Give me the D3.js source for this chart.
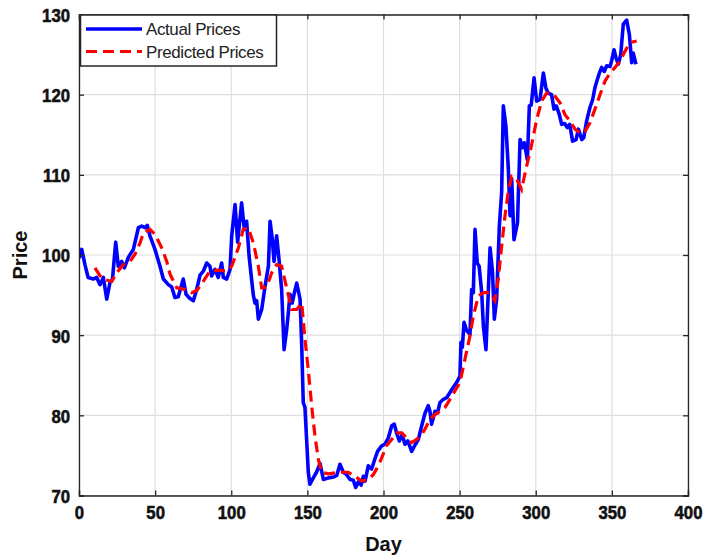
<!DOCTYPE html>
<html><head><meta charset="utf-8">
<script src="https://cdn.jsdelivr.net/npm/d3@7"></script>
<style>
html,body{margin:0;padding:0;background:#fff;}
svg{display:block;}
</style></head>
<body>
<svg id="chart" width="704" height="555"></svg>
<script>
const actualDays = [0,1.8,3.9,6,9.4,11.6,13.8,16,18.2,20.4,22,24.1,25.8,28,29.8,32.4,35.7,39,41.2,43.4,44.9,46.6,49.9,53.2,55.4,58.7,60.9,63,65.2,68.5,70.3,72.7,75.1,77.3,79.5,81.7,83.9,86,87.1,89.3,91.5,93.7,94.8,97,99.2,100.3,102.5,104.2,106.8,108.6,110.1,111.7,113,114.5,115.6,116.7,117.8,120,122.2,124.4,125.5,127,128.1,129.8,131.4,133.1,134.7,136.4,137.5,138.6,140,141.5,143,145.2,146.3,147.3,148.4,149.5,150.6,151.7,153.9,156,158.3,160.5,163.8,167.1,169.3,171.4,173.6,175.8,178,180.2,181.7,183.5,185.3,186.8,187.9,190,192.2,193.9,196.1,198.8,201,203.2,205.4,207.1,208.6,210.4,212.3,214.1,216,218.5,220.7,222.9,225.1,227.3,229.4,230.5,231.6,233.8,235.5,237.1,239.3,241.5,244.8,248,250.2,250.9,251.8,252.9,254.5,256.8,257.9,259,260.1,261.6,262.8,264.5,265.6,267.3,268.8,270,271.6,272.8,274.3,276.1,277.6,278.7,280.4,282,283.1,284.2,285.7,288,289.7,291.4,292.5,294.5,295.8,297,298.9,300.6,302.8,305,306.7,308.2,310.4,312,313.5,315.5,317,319,320.7,322.3,324.2,326.5,328,330.2,331.5,333.4,335.6,337.4,338.9,340,341.8,343.3,345,346.6,348.8,349.8,351.4,352.7,354.2,355.8,357.5,359.7,361.5,363,364,365.8];
const actualPrices = [99.6,100.7,98.8,97.2,97.0,97.2,96.3,97.2,94.5,96.6,97.0,101.6,98.6,99.2,98.4,99.7,100.7,103.4,103.6,103.4,103.7,102.4,100.7,98.6,97.0,96.3,96.0,94.7,94.8,97.0,95.1,94.6,94.3,95.7,97.5,98.0,99.0,98.6,97.4,98.2,97.2,99.0,97.2,97.0,98.2,102.4,106.3,101.6,106.5,103.2,104.2,99.9,97.6,95.0,94.0,94.3,92.0,93.2,96.1,98.6,104.2,101.9,99.2,102.4,99.4,95.7,88.2,90.7,92.8,95.1,94.0,95.3,96.5,94.5,88.6,81.6,81.0,77.0,72.9,71.4,72.2,72.9,74.0,72.0,72.2,72.3,72.5,73.9,72.9,72.6,72.0,71.9,71.0,71.7,71.3,72.4,71.8,73.7,73.3,74.3,75.5,76.2,76.4,77.2,78.7,78.9,77.8,76.8,77.6,76.4,76.8,75.5,76.3,77.0,78.7,80.3,81.2,80.5,78.9,80.5,80.3,81.6,82.0,82.2,83.2,84.1,84.9,89.1,88.5,91.6,90.6,90.1,95.7,95.3,103.2,99.0,98.6,95.3,91.1,88.2,95.3,100.9,97.9,92.0,94.5,103.6,107.8,118.6,116.1,110.7,104.9,109.5,101.9,104.0,114.4,113.4,114.0,111.9,118.6,118.7,122.1,119.2,119.4,122.7,120.8,120.2,120.0,118.2,118.6,117.5,116.3,116.4,115.9,116.3,114.2,114.4,115.7,114.4,114.6,116.7,118.4,119.4,120.9,121.6,122.7,123.4,122.9,123.6,123.5,124.2,125.6,124.6,123.8,125.0,128.8,129.3,127.5,124.0,125.2,123.8];

const predDays = [10.5,13.8,17.5,21.5,24.8,29.1,33.5,36.8,40.1,42.3,46.6,49.9,54.3,57.6,59.8,64.2,69.6,74,77.5,81.6,86,91.5,97,100.3,104.7,107.9,111.2,114.5,117.8,120,123.3,126.6,129.8,133.1,136.4,139.7,143,146.3,148.4,150.6,152.8,155,157.2,159.4,163.8,171.4,176.9,181.2,185.7,190,193.3,196.6,198.8,202,205.4,208.7,212,215.2,218.5,221.8,225.1,227.3,230.5,233.8,237.1,240.4,243.7,250.2,253.5,256.8,259,262.3,265.6,270,273.2,275.4,277.6,279.8,282,284.2,287.4,290.7,294,296.2,298.4,300.6,303.9,307.1,309.4,312.6,315.9,319.2,322.5,325.8,329,332.3,335.6,338.9,342.2,345.5,348.8,352.1,355.3,358.6,361.9,366.3];
const predPrices = [98.4,97.4,96.9,96.7,97.8,98.8,99.2,100.1,101.5,102.8,103.2,102.6,100.9,99.2,97.6,95.9,95.7,95.3,95.6,96.7,98.0,98.1,98.0,98.6,100.9,103.2,103.4,101.5,98.6,95.9,96.0,97.8,98.8,98.6,95.9,93.2,93.2,94.0,89.5,85.7,81.2,77.4,74.5,72.9,72.7,72.9,72.9,72.4,71.8,72.0,72.6,73.7,74.7,76.2,77.0,77.8,77.8,77.2,76.6,77.0,77.6,78.3,79.5,80.1,80.5,81.0,82.0,84.1,87.0,89.9,92.4,94.9,95.3,95.3,94.3,97.0,101.1,104.9,108.0,109.8,109.5,108.2,111.1,112.8,114.8,116.9,119.2,120.2,120.2,119.8,119.0,117.5,116.7,115.7,115.2,115.4,116.5,118.2,120.0,121.7,122.7,123.4,124.2,125.4,126.5,126.7];

const xTicks = [0,50,100,150,200,250,300,350,400];
const yTicks = [70,80,90,100,110,120,130];
const seriesNames = ["Actual Prices","Predicted Prices"];
const xLabel = "Day", yLabel = "Price";

const svg = d3.select("#chart");
const L = 79, R = 688, T = 14.5, B = 495.5;
const x = d3.scaleLinear().domain([0,400]).range([L,R]);
const y = d3.scaleLinear().domain([70,130]).range([B,T]);
const axisCol = "#262626";
const tickFont = "'Liberation Sans',Arial,sans-serif";

// grid
const g = svg.append("g");
g.selectAll("line.vx").data(xTicks).join("line")
  .attr("x1",d=>x(d)).attr("x2",d=>x(d)).attr("y1",T).attr("y2",B)
  .attr("stroke","#dedede").attr("stroke-width",1.2);
g.selectAll("line.hy").data(yTicks).join("line")
  .attr("x1",L).attr("x2",R).attr("y1",d=>y(d)).attr("y2",d=>y(d))
  .attr("stroke","#dedede").attr("stroke-width",1.2);

// clip
svg.append("clipPath").attr("id","clip").append("rect")
  .attr("x",L).attr("y",T).attr("width",R-L).attr("height",B-T);

const line = d3.line().x(d=>x(d[0])).y(d=>y(d[1]));
const actual = actualDays.map((d,i)=>[d,actualPrices[i]]);
const pred = predDays.map((d,i)=>[d,predPrices[i]]);

svg.append("path").datum(actual).attr("d",line)
  .attr("fill","none").attr("stroke","#0000ff").attr("stroke-width",3.6)
  .attr("stroke-linejoin","round").attr("clip-path","url(#clip)");
svg.append("path").datum(pred).attr("d",line)
  .attr("fill","none").attr("stroke","#ff0000").attr("stroke-width",3.2)
  .attr("stroke-dasharray","11,6").attr("clip-path","url(#clip)");

// axes (ticks inside)
const tickLen = 5;
const axB = svg.append("g").attr("transform",`translate(0,${B})`)
  .call(d3.axisBottom(x).tickValues(xTicks).tickSize(-tickLen).tickPadding(10).tickFormat(d3.format("d")));
const axT = svg.append("g").attr("transform",`translate(0,${T})`)
  .call(d3.axisTop(x).tickValues(xTicks).tickSize(-tickLen).tickFormat(""));
const axL = svg.append("g").attr("transform",`translate(${L},0)`)
  .call(d3.axisLeft(y).tickValues(yTicks).tickSize(-tickLen).tickPadding(9).tickFormat(d3.format("d")));
const axR = svg.append("g").attr("transform",`translate(${R},0)`)
  .call(d3.axisRight(y).tickValues(yTicks).tickSize(-tickLen).tickFormat(""));
[axB,axT,axL,axR].forEach(a=>{
  a.select(".domain").attr("stroke",axisCol).attr("stroke-width",1.3);
  a.selectAll(".tick line").attr("stroke",axisCol).attr("stroke-width",1.3);
  a.selectAll(".tick text").attr("fill","#111").attr("font-family",tickFont)
    .attr("font-weight","bold").attr("font-size",19)
    .attr("stroke","#111").attr("stroke-width",0.6);
});
axB.selectAll(".tick text").attr("dy","0.71em");
axL.selectAll(".tick text").attr("dy","0.36em");
// condense tick labels like the reference
[axB,axL].forEach(a=>a.selectAll(".tick text").each(function(){
  const w = this.getComputedTextLength();
  d3.select(this).attr("textLength",w*0.88).attr("lengthAdjust","spacingAndGlyphs");
}));

// axis labels
svg.append("text").attr("x",(L+R)/2).attr("y",551).attr("text-anchor","middle")
  .attr("font-family","'Liberation Sans',Arial,sans-serif").attr("font-weight","bold")
  .attr("font-size",20).attr("fill","#111").text(xLabel);
svg.append("text").attr("transform",`translate(27,${(T+B)/2}) rotate(-90)`)
  .attr("text-anchor","middle")
  .attr("font-family","'Liberation Sans',Arial,sans-serif").attr("font-weight","bold")
  .attr("font-size",20).attr("fill","#111").text(yLabel);

// legend
const lg = svg.append("g");
lg.append("rect").attr("x",80.5).attr("y",15).attr("width",196).attr("height",51)
  .attr("fill","#fff").attr("stroke",axisCol).attr("stroke-width",1.5);
const legY = [29,51.5];
const legStyle = [{c:"#0000ff",dash:null,w:3.6},{c:"#ff0000",dash:"11,6",w:3.2}];
seriesNames.forEach((n,i)=>{
  lg.append("line").attr("x1",86).attr("x2",142).attr("y1",legY[i]).attr("y2",legY[i])
    .attr("stroke",legStyle[i].c).attr("stroke-width",legStyle[i].w)
    .attr("stroke-dasharray",legStyle[i].dash);
  lg.append("text").attr("x",146).attr("y",legY[i]).attr("dy","0.36em")
    .attr("font-family","'Liberation Sans',Arial,sans-serif").attr("font-size",17)
    .attr("letter-spacing","-0.4").attr("fill","#222").text(n);
});
</script>
</body></html>
